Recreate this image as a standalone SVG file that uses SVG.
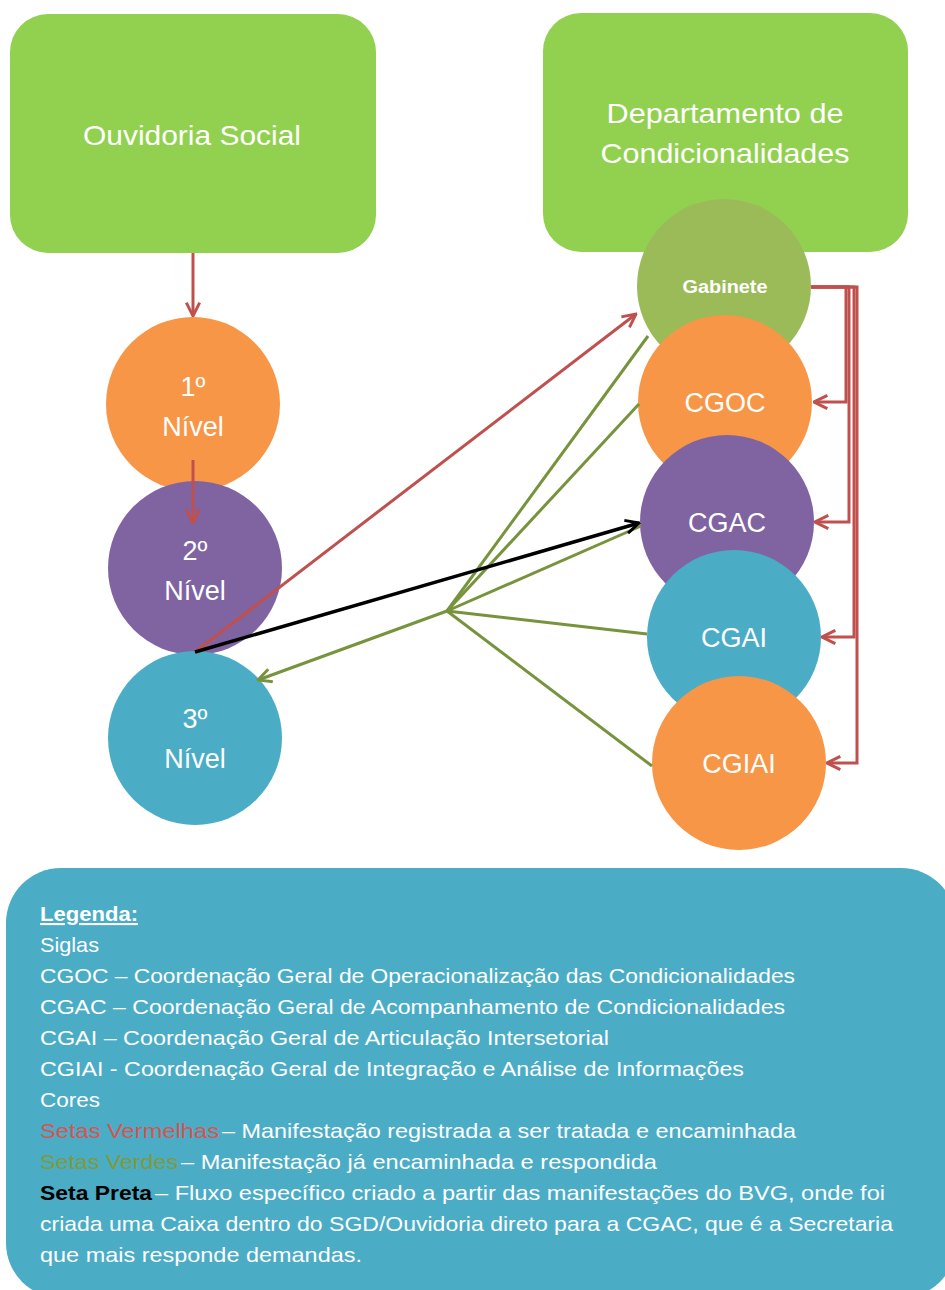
<svg xmlns="http://www.w3.org/2000/svg" width="945" height="1290" viewBox="0 0 945 1290">
<style>
.box{fill:#92D050;}
.t{font-family:"Liberation Sans","DejaVu Sans",sans-serif;fill:#ffffff;text-anchor:middle;}
.big{font-size:27px;}
.lg{font-family:"Liberation Sans","DejaVu Sans",sans-serif;font-size:21px;fill:#ffffff;}
.red{stroke:#C0504D;stroke-width:3;fill:none;}
.grn{stroke:#77933C;stroke-width:3;fill:none;}
.blk{stroke:#000000;stroke-width:3.5;fill:none;}
</style>
<defs>
<marker id="ar" viewBox="0 0 12 12" refX="11" refY="6" markerWidth="16" markerHeight="16" markerUnits="userSpaceOnUse" orient="auto"><path d="M1,1 L11,6 L1,11" fill="none" stroke="#C0504D" stroke-width="2.2"/></marker>
<marker id="ag" viewBox="0 0 12 12" refX="11" refY="6" markerWidth="16" markerHeight="16" markerUnits="userSpaceOnUse" orient="auto"><path d="M1,1 L11,6 L1,11" fill="none" stroke="#77933C" stroke-width="2.2"/></marker>
<marker id="ab" viewBox="0 0 12 12" refX="11" refY="6" markerWidth="16" markerHeight="16" markerUnits="userSpaceOnUse" orient="auto"><path d="M1,1 L11,6 L1,11" fill="none" stroke="#000000" stroke-width="2.2"/></marker>
</defs>
<rect width="945" height="1290" fill="#ffffff"/>
<g id="ouvidoria">
<rect class="box" x="10" y="14" width="366" height="239" rx="38"/>
<text class="t" x="192" y="145" font-size="28" textLength="218" lengthAdjust="spacingAndGlyphs">Ouvidoria Social</text>
</g>
<g id="departamento">
<rect class="box" x="543" y="13" width="365" height="239" rx="38"/>
<text class="t" x="725" y="123" font-size="28" textLength="237" lengthAdjust="spacingAndGlyphs">Departamento de</text>
<text class="t" x="725" y="163" font-size="28" textLength="249" lengthAdjust="spacingAndGlyphs">Condicionalidades</text>
</g>
<g id="nivel1">
<circle cx="193" cy="404" r="87" fill="#F79646"/>
<text class="t big" x="193" y="396">1º</text>
<text class="t big" x="193" y="436">Nível</text>
</g>
<g id="nivel2">
<circle cx="195" cy="568" r="87" fill="#8064A2"/>
<text class="t big" x="195" y="560">2º</text>
<text class="t big" x="195" y="600">Nível</text>
</g>
<g id="nivel3">
<circle cx="195" cy="738" r="87" fill="#4BACC6"/>
<text class="t big" x="195" y="728">3º</text>
<text class="t big" x="195" y="768">Nível</text>
</g>
<g id="gabinete">
<circle cx="724" cy="286" r="87" fill="#9BBB59"/>
<text class="t" x="725" y="293" font-size="18" font-weight="bold" textLength="85" lengthAdjust="spacingAndGlyphs">Gabinete</text>
</g>
<g id="cgoc">
<circle cx="725" cy="402" r="87" fill="#F79646"/>
<text class="t big" x="725" y="412">CGOC</text>
</g>
<g id="cgac">
<circle cx="727" cy="522" r="87" fill="#8064A2"/>
<text class="t big" x="727" y="532">CGAC</text>
</g>
<g id="cgai">
<circle cx="734" cy="637" r="87" fill="#4BACC6"/>
<text class="t big" x="734" y="647">CGAI</text>
</g>
<g id="cgiai">
<circle cx="739" cy="763" r="87" fill="#F79646"/>
<text class="t big" x="739" y="773">CGIAI</text>
</g>
<g id="connectors">
<line class="red" x1="193" y1="253" x2="193" y2="316" marker-end="url(#ar)"/>
<line class="red" x1="193" y1="460" x2="193" y2="523" marker-end="url(#ar)"/>
<line class="red" x1="195" y1="652" x2="636" y2="314" marker-end="url(#ar)"/>
<polyline class="red" points="811,287 846,287 846,402 814,402" marker-end="url(#ar)"/>
<polyline class="red" points="811,287 849,287 849,522 815,522" marker-end="url(#ar)"/>
<polyline class="red" points="811,287 854,287 854,637 822,637" marker-end="url(#ar)"/>
<polyline class="red" points="811,287 857,287 857,763 827,763" marker-end="url(#ar)"/>
<line class="grn" x1="648" y1="336" x2="447" y2="611"/>
<line class="grn" x1="639" y1="404" x2="447" y2="611"/>
<line class="grn" x1="641" y1="526" x2="447" y2="611"/>
<line class="grn" x1="647" y1="634" x2="447" y2="611"/>
<line class="grn" x1="652" y1="766" x2="447" y2="611"/>
<line class="grn" x1="447" y1="611" x2="258" y2="680" marker-end="url(#ag)"/>
<line class="blk" x1="195" y1="652" x2="639" y2="523" marker-end="url(#ab)"/>
</g>
<g id="legenda">
<rect x="6" y="868" width="950" height="430" rx="55" fill="#4BACC6"/>
<text class="lg" x="40" y="921" font-weight="bold" text-decoration="underline" textLength="98" lengthAdjust="spacingAndGlyphs">Legenda:</text>
<text class="lg" x="40" y="952" textLength="59" lengthAdjust="spacingAndGlyphs">Siglas</text>
<text class="lg" x="40" y="983" textLength="755" lengthAdjust="spacingAndGlyphs">CGOC – Coordenação Geral de Operacionalização das Condicionalidades</text>
<text class="lg" x="40" y="1014" textLength="745" lengthAdjust="spacingAndGlyphs">CGAC – Coordenação Geral de Acompanhamento de Condicionalidades</text>
<text class="lg" x="40" y="1045" textLength="569" lengthAdjust="spacingAndGlyphs">CGAI – Coordenação Geral de Articulação Intersetorial</text>
<text class="lg" x="40" y="1076" textLength="704" lengthAdjust="spacingAndGlyphs">CGIAI -  Coordenação Geral de Integração e Análise de Informações</text>
<text class="lg" x="40" y="1107" textLength="60" lengthAdjust="spacingAndGlyphs">Cores</text>
<text class="lg" x="40" y="1138" style="fill:#D9534F" textLength="179" lengthAdjust="spacingAndGlyphs">Setas Vermelhas</text>
<text class="lg" x="222" y="1138" textLength="574" lengthAdjust="spacingAndGlyphs">– Manifestação registrada a ser tratada e encaminhada</text>
<text class="lg" x="40" y="1169" style="fill:#7F9A3A" textLength="138" lengthAdjust="spacingAndGlyphs">Setas Verdes</text>
<text class="lg" x="181" y="1169" textLength="476" lengthAdjust="spacingAndGlyphs">– Manifestação já encaminhada e respondida</text>
<text class="lg" x="40" y="1200" style="fill:#000000" font-weight="bold" textLength="112" lengthAdjust="spacingAndGlyphs">Seta Preta</text>
<text class="lg" x="155" y="1200" textLength="730" lengthAdjust="spacingAndGlyphs">– Fluxo específico criado a partir das manifestações do BVG, onde foi</text>
<text class="lg" x="40" y="1231" textLength="853" lengthAdjust="spacingAndGlyphs">criada uma Caixa dentro do SGD/Ouvidoria direto para a CGAC, que é a Secretaria</text>
<text class="lg" x="40" y="1262" textLength="322" lengthAdjust="spacingAndGlyphs">que mais responde demandas.</text>
</g>
</svg>
